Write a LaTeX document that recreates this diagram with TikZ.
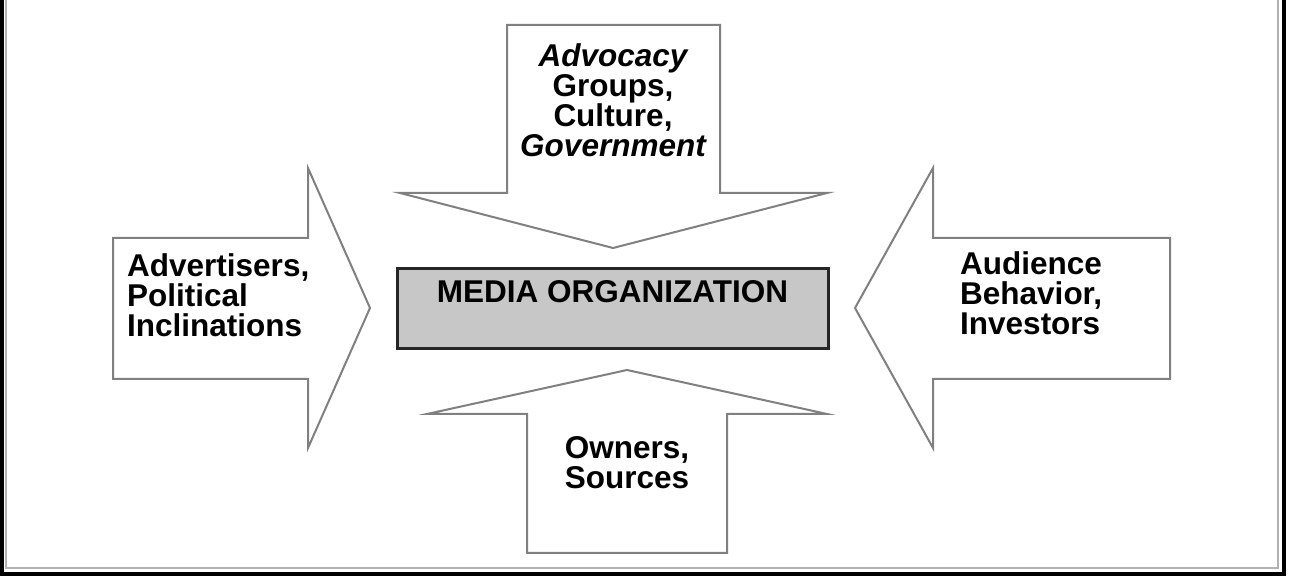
\documentclass[tikz,border=0pt]{standalone}
\usepackage{fontspec}
\setmainfont{Liberation Sans}
\usepackage{tikz}

\begin{document}
\begin{tikzpicture}[x=1pt, y=1pt,
    every node/.style = {font=\bfseries\fontsize{31.5}{30}\selectfont, inner sep=0pt},
    blockarrow/.style = {draw=black!50, line width=2pt, fill=white, line join=miter},
    mediabox/.style = {draw=black!85, line width=3pt, fill=black!22, minimum width=431pt, minimum height=80pt}]
    \useasboundingbox (0,0) rectangle (1301,577);
    \draw[line width=4pt] (1.75,577) -- (1.75,2.5) -- (1283.5,2.5) -- (1283.5,577);
    \draw[black!30, line width=2pt] (5.5,577) -- (5.5,8.5) -- (1278,8.5) -- (1278,577);
    \draw[blockarrow] (113,339) -- (308,339) -- (308,409) -- (370,269) -- (308,129) -- (308,198) -- (113,198) -- cycle;
    \draw[blockarrow] (1170,339) -- (933,339) -- (933,409) -- (855,269) -- (933,129) -- (933,198) -- (1170,198) -- cycle;
    \draw[blockarrow] (507,552) -- (720,552) -- (720,384) -- (827,384) -- (613,329) -- (400,384) -- (507,384) -- cycle;
    \draw[blockarrow] (527,24) -- (727,24) -- (727,163) -- (827,163) -- (627,207) -- (427,163) -- (527,163) -- cycle;
    \node[mediabox] (media) at (612.5,268) {};
    \node (medialabel) at ([yshift=-24pt]media.north) {MEDIA ORGANIZATION};
    \node[anchor=west, align=left] (advertisers) at (127,281.5) {Advertisers,\\Political\\Inclinations};
    \node[anchor=west, align=left] (audience) at (960,284) {Audience\\Behavior,\\Investors};
    \node[align=center] (advocacy) at (613,477) {\itshape Advocacy\\Groups,\\Culture,\\\itshape Government};
    \node[align=center] (owners) at (627,114) {Owners,\\Sources};
\end{tikzpicture}
\end{document}
